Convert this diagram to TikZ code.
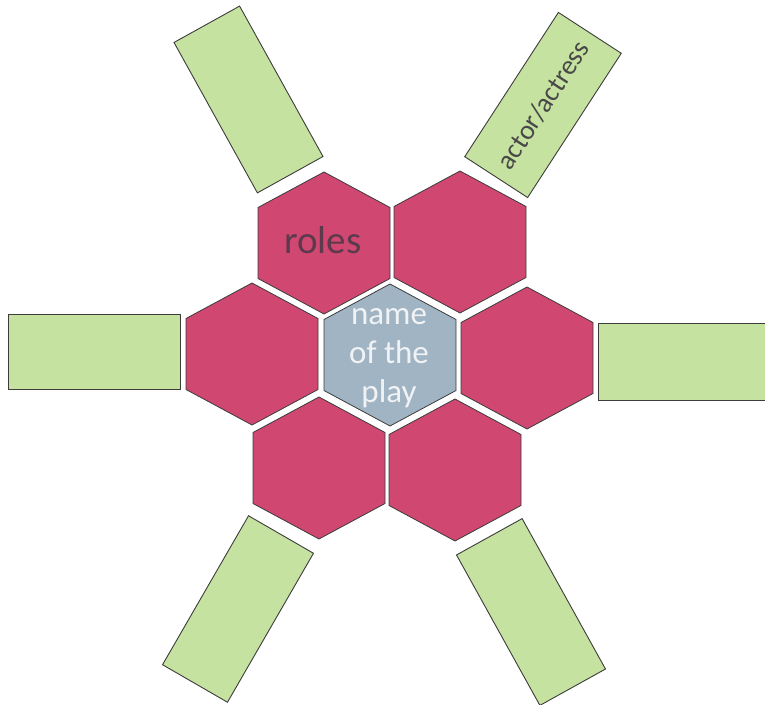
\documentclass[tikz,border=0pt]{standalone}
\usepackage{fontspec}
\setmainfont{Carlito}
\definecolor{hexpink}{RGB}{208,72,114}
\definecolor{hexblue}{RGB}{160,180,196}
\definecolor{boxgreen}{RGB}{198,226,160}
\definecolor{inkline}{RGB}{60,60,60}
\definecolor{roletext}{RGB}{92,58,76}
\definecolor{actortext}{RGB}{72,72,72}
\definecolor{playtext}{RGB}{240,242,244}
\tikzset{
  hexagon/.pic={\path[pic actions] (0,71) -- (66,35.5) -- (66,-35.5) -- (0,-71) -- (-66,-35.5) -- (-66,35.5) -- cycle;},
  redhex/.style={fill=hexpink, draw=inkline, line width=0.8pt, line join=round},
  bluehex/.style={fill=hexblue, draw=inkline, line width=0.8pt, line join=round},
  greenbox/.style={draw=inkline, fill=boxgreen, line width=0.9pt, minimum width=172pt, minimum height=75pt, inner sep=0pt, outer sep=0pt},
  rolesfont/.style={text=roletext, font=\fontsize{39}{44}\selectfont, inner sep=0pt},
  playfont/.style={text=playtext, font=\fontsize{33}{39}\selectfont, align=center, inner sep=0pt},
  actorfont/.style={text=actortext, font=\fontsize{27.5}{32}\selectfont, inner sep=0pt}
}
\begin{document}
\begin{tikzpicture}[x=1pt,y=1pt]
\useasboundingbox (0,0) rectangle (765,704);
% green boxes
\node[greenbox, rotate=-61] (boxUL) at (248.5,604.5) {};
\node[greenbox, rotate=57] (boxUR) at (543,599) {};
\node[greenbox] (boxL) at (94.5,352.5) {};
\node[greenbox, minimum height=77pt] (boxR) at (684.5,342.5) {};
\node[greenbox, rotate=60] (boxLL) at (238,95) {};
\node[greenbox, rotate=-61] (boxLR) at (531,92) {};
% hexagons
\pic[bluehex] at (390,349) {hexagon};
\pic[redhex] at (324,461) {hexagon};
\pic[redhex] at (460,462) {hexagon};
\pic[redhex] at (252,350) {hexagon};
\pic[redhex] at (527,346) {hexagon};
\pic[redhex] at (319,236) {hexagon};
\pic[redhex] at (455,234) {hexagon};
% texts
\node[rolesfont] (roles) at (323,464) {roles};
\node[playfont] (play) at (389,346) {name\\of the\\play};
\node[actorfont, rotate=57] (actor) at (boxUR.center) {actor/actress};
\end{tikzpicture}
\end{document}
